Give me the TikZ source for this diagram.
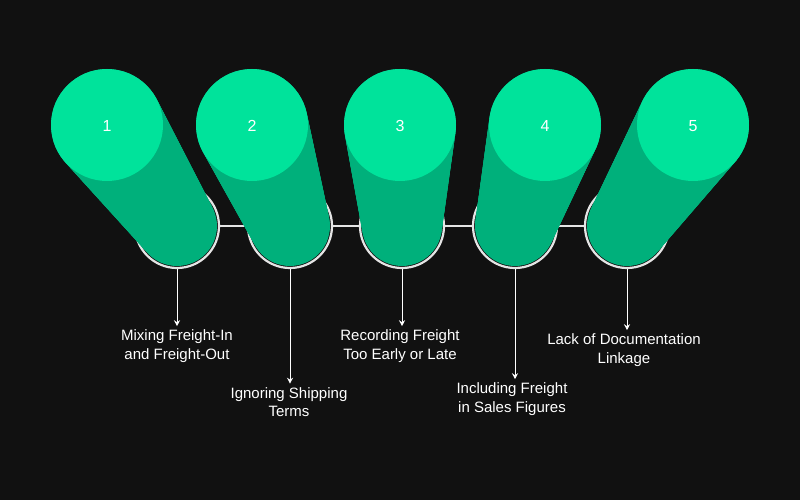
\documentclass[tikz,border=0pt]{standalone}
\usepackage{fontspec}
\usetikzlibrary{arrows.meta}
\setmainfont{Liberation Sans}
\definecolor{bg}{HTML}{111111}
\definecolor{topg}{HTML}{00E39B}
\definecolor{shaftg}{HTML}{00B07B}
\begin{document}
\begin{tikzpicture}[x=1pt,y=-1pt,
  ring/.style={draw=white!90!black,line width=2.2pt},
  link/.style={draw=white!90!black,line width=2pt},
  arr/.style={draw=white,line width=1pt,-{Stealth[length=6pt,width=6pt]}},
  lbl/.style={text=white,font=\fontsize{15}{18.5}\selectfont,align=center},
  num/.style={text=white,font=\fontsize{16}{18}\selectfont}]
\fill[bg] (0,0) rectangle (800,500);
\useasboundingbox (0,0) rectangle (800,500);
% bottom rings
\foreach \i/\bx in {1/177,2/290,3/402,4/515,5/627}{
  \node[ring,circle,minimum size=84pt,inner sep=0] (r\i) at (\bx,226) {};
}
\draw[link] (r1) -- (r2); \draw[link] (r2) -- (r3); \draw[link] (r3) -- (r4); \draw[link] (r4) -- (r5);
% shafts
\foreach \tx/\bx in {107/177,252/290,400/402,545/515,693/627}{
  \foreach \t in {0,0.025,...,1.001}{
    \fill[shaftg] ({\tx+(\bx-\tx)*\t},{125+101*\t}) circle ({56-16*\t});
  }
}
% tops
\foreach \i/\tx in {1/107,2/252,3/400,4/545,5/693}{
  \fill[topg] (\tx,125) circle (56);
  \node[num] (n\i) at (\tx,126) {\i};
}
% labels
\node[lbl] (l1) at (177,346) {Mixing Freight-In\\and Freight-Out};
\node[lbl] (l2) at (289,402) {Ignoring Shipping\\Terms};
\node[lbl] (l3) at (400,346) {Recording Freight\\Too Early or Late};
\node[lbl] (l4) at (512,399) {Including Freight\\in Sales Figures};
\node[lbl] (l5) at (624,350) {Lack of Documentation\\Linkage};
\foreach \i in {1,...,5}{
  \draw[arr] (r\i.south) -- (r\i.south |- l\i.north);
}
\end{tikzpicture}
\end{document}
